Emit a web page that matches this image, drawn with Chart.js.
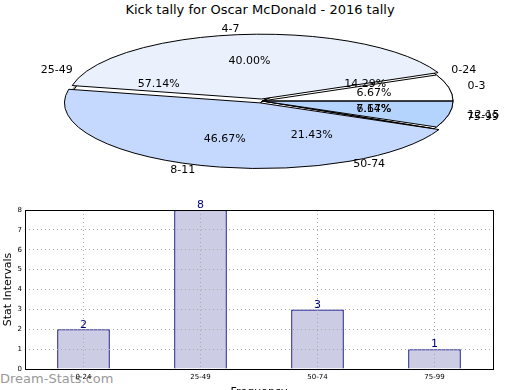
<!DOCTYPE html>
<html>
<head>
<meta charset="utf-8">
<script src="https://cdn.jsdelivr.net/npm/chart.js@4.4.1/dist/chart.umd.min.js"></script>
<style>
body { margin: 0; width: 520px; height: 390px; overflow: hidden; position: relative; background: #fff; font-family: "DejaVu Sans", sans-serif; }
canvas { position: absolute; left: 0; }
#title { position: absolute; top: 0; left: 0; width: 520px; text-align: center; font-size: 13px; line-height: 20px; color: #000; }
#mark { position: absolute; left: 0; top: 371px; font-size: 13px; color: #999; }
</style>
</head>
<body>
<div id="title">Kick tally for Oscar McDonald - 2016 tally</div>
<div id="mark">Dream-Stats.com</div>
<canvas id="pieBack" width="520" height="190" style="top:0"></canvas>
<canvas id="pieFront" width="520" height="190" style="top:0"></canvas>
<canvas id="bars" width="520" height="195" style="top:195px"></canvas>
<script>
// stat intervals pie (drawn on top)
var statLabels = ['0-3', '4-7', '8-11', '12-15'];
var statCounts = [1, 6, 7, 1];
var statColors = ['#ffffff', '#eaf1fd', '#c5d8fd', '#b5d4fd'];
var statExplode = [0, 8, 8, 0];

// kick frequency (pie underneath + bar chart)
var kickLabels = ['0-24', '25-49', '50-74', '75-99'];
var kickCounts = [2, 8, 3, 1];
var kickExplode = [0, 0, 0, 0];

var yTicks = [0, 1, 2, 3, 4, 5, 6, 7, 8];

// pie is a circle of radius 64 stretched sideways into the ellipse
var PIE_R = 64;
var PIE_SX = 191 / 64;
var FONT = '"DejaVu Sans", sans-serif';

function squash(ctx, cx, cy) {
    ctx.translate(cx, cy);
    ctx.scale(PIE_SX, -1);
    ctx.translate(-cx, -cy);
}

function arcPath(ctx, arc, dx, dy) {
    var off = (arc.options.offset || 0) / 4;
    var circ = arc.endAngle - arc.startAngle;
    var grow = off * (1 - Math.sin(Math.min(Math.PI, circ)));
    var mid = (arc.startAngle + arc.endAngle) / 2;
    var ox = arc.x + Math.cos(mid) * off, oy = arc.y + Math.sin(mid) * off;
    ctx.save();
    ctx.translate(dx || 0, dy || 0);
    squash(ctx, arc.x, arc.y);
    ctx.moveTo(ox, oy);
    ctx.arc(ox, oy, arc.outerRadius + grow, arc.startAngle, arc.endAngle);
    ctx.closePath();
    ctx.restore();
}

// point on the ellipse at mid angle of a slice, k = fraction of radius
function slicePoint(arc, k) {
    var off = (arc.options.offset || 0) / 4;
    var mid = (arc.startAngle + arc.endAngle) / 2;
    var r = arc.outerRadius * k + off;
    return {
        x: arc.x + Math.cos(mid) * r * PIE_SX,
        y: arc.y - Math.sin(mid) * r,
        c: Math.cos(mid)
    };
}

var squashPlugin = {
    id: 'squash',
    beforeDatasetsDraw: function (chart, args, opts) {
        var ctx = chart.ctx;
        var meta = chart.getDatasetMeta(0);
        var a0 = meta.data[0];
        if (opts.shadow) {
            ctx.save();
            ctx.beginPath();
            meta.data.forEach(function (arc) { arcPath(ctx, arc, -3, 1.5); });
            ctx.fillStyle = 'rgba(77,77,77,0.5)';
            ctx.fill();
            ctx.restore();
        }
        ctx.save();
        squash(ctx, a0.x, a0.y);
    },
    afterDatasetsDraw: function (chart) {
        var ctx = chart.ctx;
        ctx.restore();
        var meta = chart.getDatasetMeta(0);
        ctx.save();
        ctx.lineWidth = 1;
        ctx.strokeStyle = '#000';
        ctx.lineJoin = 'round';
        meta.data.forEach(function (arc) {
            ctx.beginPath();
            arcPath(ctx, arc, 0, 0);
            ctx.stroke();
        });
        ctx.restore();
    }
};

function drawPieText(ctx, chart, labels, counts) {
    var meta = chart.getDatasetMeta(0);
    var total = counts.reduce(function (a, b) { return a + b; }, 0);
    ctx.font = '11px ' + FONT;
    ctx.fillStyle = '#000';
    ctx.textBaseline = 'middle';
    meta.data.forEach(function (arc, i) {
        var p = slicePoint(arc, 1.1);
        ctx.textAlign = p.c > 0 ? 'left' : 'right';
        ctx.fillText(labels[i], p.x, p.y);
        var q = slicePoint(arc, 0.6);
        ctx.textAlign = 'center';
        ctx.fillText((counts[i] / total * 100).toFixed(2) + '%', q.x, q.y);
    });
}

function pieConfig(labels, counts, colors, explode, shadow, extra) {
    return {
        type: 'pie',
        data: {
            labels: labels,
            datasets: [{
                data: counts,
                backgroundColor: colors,
                borderWidth: 0,
                offset: explode,
                clip: false
            }]
        },
        options: {
            responsive: false,
            animation: false,
            events: [],
            rotation: 90,
            radius: PIE_R,
            layout: { padding: { top: 35, bottom: 23, left: 100, right: 96 } },
            plugins: {
                legend: { display: false },
                tooltip: { enabled: false },
                squash: { shadow: shadow }
            }
        },
        plugins: [squashPlugin].concat(extra || [])
    };
}

var backChart = new Chart(document.getElementById('pieBack'),
    pieConfig(kickLabels, kickCounts, '#ffffff', kickExplode, true));

var frontChart = new Chart(document.getElementById('pieFront'),
    pieConfig(statLabels, statCounts, statColors, statExplode, false, [{
        id: 'pieText',
        afterDraw: function (chart) {
            var ctx = chart.ctx;
            ctx.save();
            drawPieText(ctx, backChart, kickLabels, kickCounts);
            drawPieText(ctx, chart, statLabels, statCounts);
            ctx.restore();
        }
    }]));

// bar chart
var barText = {
    id: 'barText',
    afterDraw: function (chart) {
        var ctx = chart.ctx, a = chart.chartArea;
        ctx.save();
        ctx.strokeStyle = '#000';
        ctx.lineWidth = 1;
        ctx.strokeRect(Math.round(a.left) + 0.5, Math.round(a.top) + 0.5,
            Math.round(a.right - a.left), Math.round(a.bottom - a.top));
        ctx.font = '11px ' + FONT;
        ctx.fillStyle = '#000080';
        ctx.textAlign = 'center';
        ctx.textBaseline = 'bottom';
        chart.getDatasetMeta(0).data.forEach(function (bar, i) {
            ctx.fillText(String(kickCounts[i]), bar.x, bar.y + 1);
        });
        ctx.restore();
    }
};

new Chart(document.getElementById('bars'), {
    type: 'bar',
    data: {
        labels: kickLabels,
        datasets: [{
            data: kickCounts,
            backgroundColor: '#ccccE4',
            borderColor: '#000080',
            borderWidth: 1.3,
            barPercentage: 0.45,
            categoryPercentage: 1
        }]
    },
    options: {
        responsive: false,
        animation: false,
        events: [],
        layout: { padding: { top: 15, right: 27, left: 0, bottom: 0 } },
        plugins: { legend: { display: false }, tooltip: { enabled: false } },
        scales: {
            x: {
                offset: true,
                grid: { offset: false, color: '#aaaaaa', drawTicks: false, z: 1 },
                border: { display: false, dash: [1, 3] },
                ticks: { color: '#000', font: { size: 7, family: FONT }, padding: 4 },
                title: { display: true, text: 'Frequency', color: '#000', font: { size: 11, family: FONT }, padding: { top: 0, bottom: -9 } },
                afterFit: function (s) { s.height = 21; }
            },
            y: {
                min: yTicks[0],
                max: yTicks[yTicks.length - 1],
                afterBuildTicks: function (s) { s.ticks = yTicks.map(function (v) { return { value: v }; }); },
                grid: { color: '#aaaaaa', drawTicks: false, z: 1 },
                border: { display: false, dash: [1, 3] },
                ticks: { color: '#000', font: { size: 7, family: FONT }, padding: 3 },
                title: { display: true, text: 'Stat Intervals', color: '#000', font: { size: 11, family: FONT }, padding: { top: 2, bottom: 0 } },
                afterFit: function (s) { s.width = 25; }
            }
        }
    },
    plugins: [barText]
});
</script>
</body>
</html>
